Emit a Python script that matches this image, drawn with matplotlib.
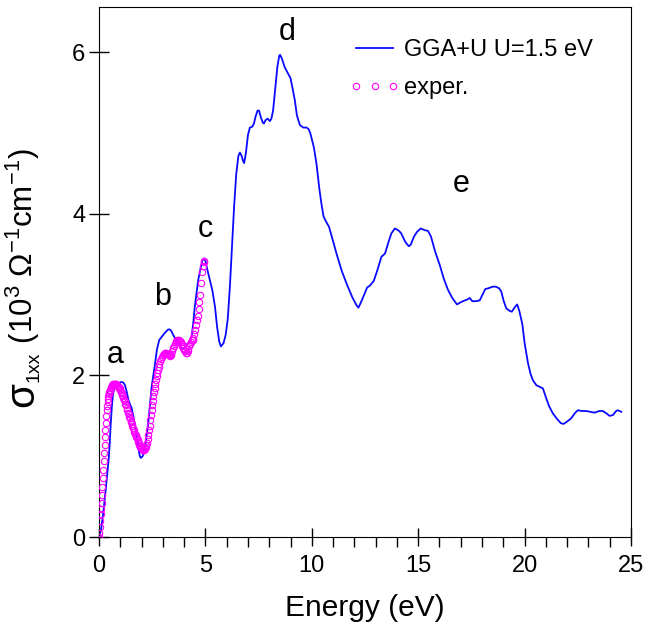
import matplotlib

matplotlib.use("Agg")
import matplotlib.pyplot as plt
from matplotlib.legend_handler import HandlerLine2D
from matplotlib.lines import Line2D
from matplotlib.ticker import MultipleLocator

plt.rcParams["font.family"] = ["Liberation Sans", "DejaVu Sans"]
plt.rcParams["mathtext.fontset"] = "custom"
plt.rcParams["mathtext.rm"] = "Liberation Sans"
plt.rcParams["mathtext.it"] = "Liberation Sans"
plt.rcParams["mathtext.bf"] = "Liberation Sans:bold"

# GGA+U U=1.5 eV calculation
calc_e = [0.00, 0.10, 0.20, 0.30, 0.40, 0.45, 0.50, 0.55, 0.60, 0.65, 0.70, 0.75, 0.85, 0.95,
          1.06, 1.15, 1.22, 1.30, 1.38, 1.46, 1.53, 1.61, 1.70, 1.77, 1.85, 1.92, 1.97, 2.05,
          2.13, 2.20, 2.31, 2.40, 2.47, 2.55, 2.63, 2.72, 2.83, 2.95, 3.10, 3.25, 3.33, 3.40,
          3.49, 3.60, 3.72, 3.85, 3.92, 4.02, 4.11, 4.25, 4.35, 4.43, 4.50, 4.58, 4.66, 4.75,
          4.85, 4.93, 5.00, 5.10, 5.21, 5.33, 5.45, 5.55, 5.65, 5.73, 5.85, 5.95, 6.05, 6.15,
          6.25, 6.35, 6.45, 6.55, 6.62, 6.70, 6.78, 6.82, 6.90, 7.00, 7.09, 7.20, 7.28, 7.35,
          7.45, 7.52, 7.60, 7.70, 7.75, 7.82, 7.92, 8.03, 8.10, 8.18, 8.28, 8.38, 8.47, 8.51,
          8.60, 8.72, 8.84, 9.00, 9.10, 9.20, 9.30, 9.44, 9.60, 9.75, 9.85, 9.93, 10.10, 10.22,
          10.35, 10.45, 10.55, 10.66, 10.81, 11.00, 11.16, 11.40, 11.63, 11.90, 12.10, 12.19,
          12.30, 12.49, 12.60, 12.72, 12.91, 13.10, 13.27, 13.44, 13.60, 13.74, 13.90, 13.98,
          14.10, 14.20, 14.40, 14.56, 14.65, 14.80, 14.95, 15.12, 15.30, 15.46, 15.60, 15.80,
          16.01, 16.20, 16.40, 16.60, 16.82, 16.95, 17.10, 17.30, 17.42, 17.54, 17.70, 17.89,
          18.00, 18.15, 18.30, 18.50, 18.64, 18.80, 18.90, 19.02, 19.14, 19.30, 19.40, 19.55,
          19.65, 19.75, 19.89, 20.00, 20.16, 20.28, 20.39, 20.55, 20.70, 20.86, 21.00, 21.15,
          21.33, 21.50, 21.70, 21.83, 22.00, 22.19, 22.35, 22.50, 22.70, 22.90, 23.10, 23.29,
          23.50, 23.68, 23.85, 23.99, 24.15, 24.30, 24.38, 24.54]
calc_s = [0.00, 0.10, 0.30, 0.55, 0.82, 0.95, 1.15, 1.40, 1.60, 1.75, 1.83, 1.87, 1.89, 1.91,
          1.92, 1.91, 1.88, 1.80, 1.70, 1.64, 1.60, 1.50, 1.36, 1.24, 1.10, 1.00, 0.98, 1.00,
          1.06, 1.18, 1.40, 1.65, 1.85, 2.00, 2.14, 2.32, 2.44, 2.48, 2.53, 2.57, 2.57, 2.55,
          2.50, 2.45, 2.40, 2.34, 2.33, 2.35, 2.38, 2.42, 2.48, 2.65, 2.85, 3.02, 3.18, 3.30,
          3.42, 3.45, 3.42, 3.30, 3.18, 3.05, 2.85, 2.60, 2.42, 2.36, 2.40, 2.50, 2.70, 3.10,
          3.60, 4.10, 4.50, 4.72, 4.76, 4.72, 4.65, 4.63, 4.75, 4.98, 5.07, 5.08, 5.12, 5.20,
          5.28, 5.28, 5.20, 5.13, 5.12, 5.16, 5.18, 5.15, 5.18, 5.28, 5.55, 5.82, 5.96, 5.97,
          5.92, 5.82, 5.76, 5.68, 5.55, 5.41, 5.22, 5.10, 5.07, 5.07, 5.05, 5.00, 4.82, 4.62,
          4.32, 4.13, 3.97, 3.91, 3.84, 3.66, 3.51, 3.30, 3.14, 2.97, 2.87, 2.84,
          2.90, 3.02, 3.09, 3.11, 3.17, 3.32, 3.47, 3.51, 3.65, 3.76, 3.82, 3.81,
          3.79, 3.76, 3.65, 3.60, 3.62, 3.72, 3.78, 3.82, 3.80, 3.79, 3.72, 3.53,
          3.37, 3.20, 3.06, 2.96, 2.88, 2.90, 2.92, 2.94, 2.96, 2.92, 2.92, 2.93,
          2.99, 3.07, 3.08, 3.10, 3.10, 3.08, 3.04, 2.92, 2.83, 2.80, 2.79, 2.85,
          2.88, 2.80, 2.64, 2.40, 2.15, 2.02, 1.94, 1.88, 1.86, 1.84, 1.73, 1.62,
          1.53, 1.47, 1.41, 1.40, 1.43, 1.47, 1.53, 1.57, 1.56, 1.56, 1.55, 1.54,
          1.56, 1.56, 1.53, 1.50, 1.51, 1.56, 1.57, 1.55]

# experiment (dense at low energy)
exp_e = [0.00, 0.02, 0.04, 0.06, 0.08, 0.10, 0.12, 0.14, 0.16, 0.18, 0.20, 0.22, 0.24, 0.26,
         0.28, 0.30, 0.32, 0.34, 0.36, 0.38, 0.40, 0.42, 0.44, 0.46, 0.48, 0.50, 0.52, 0.55,
         0.58, 0.61, 0.64, 0.67, 0.70, 0.73, 0.76, 0.79, 0.82, 0.85, 0.88, 0.91, 0.94, 0.97,
         1.00, 1.03, 1.06, 1.09, 1.12, 1.15, 1.18, 1.21, 1.24, 1.27, 1.30, 1.33, 1.36, 1.39,
         1.42, 1.45, 1.48, 1.51, 1.54, 1.57, 1.60, 1.63, 1.66, 1.69, 1.72, 1.75, 1.78, 1.81,
         1.84, 1.87, 1.90, 1.93, 1.96, 1.99, 2.02, 2.05, 2.08, 2.11, 2.14, 2.17, 2.20, 2.23,
         2.26, 2.29, 2.32, 2.35, 2.38, 2.41, 2.44, 2.47, 2.50, 2.53, 2.56, 2.59, 2.62, 2.65,
         2.68, 2.71, 2.74, 2.77, 2.80, 2.84, 2.88, 2.92, 2.96, 3.00, 3.04, 3.08, 3.12, 3.16,
         3.20, 3.24, 3.28, 3.32, 3.36, 3.40, 3.44, 3.48, 3.52, 3.56, 3.60, 3.64, 3.68, 3.72,
         3.76, 3.80, 3.84, 3.88, 3.92, 3.96, 4.00, 4.04, 4.08, 4.12, 4.16, 4.20, 4.24, 4.28,
         4.32, 4.36, 4.40, 4.44, 4.48, 4.52, 4.56, 4.60, 4.64, 4.68, 4.72, 4.76, 4.80, 4.84,
         4.88, 4.92, 4.95]
exp_s = [0.00, 0.05, 0.12, 0.20, 0.28, 0.35, 0.42, 0.52, 0.62, 0.73, 0.83, 0.94, 1.04, 1.14,
         1.24, 1.33, 1.41, 1.50, 1.57, 1.62, 1.67, 1.71, 1.74, 1.77, 1.79, 1.81, 1.82, 1.84,
         1.86, 1.88, 1.89, 1.90, 1.90, 1.90, 1.90, 1.89, 1.89, 1.88, 1.87, 1.86, 1.85, 1.84,
         1.82, 1.80, 1.78, 1.76, 1.74, 1.72, 1.70, 1.68, 1.65, 1.63, 1.60, 1.57, 1.54, 1.52,
         1.49, 1.47, 1.44, 1.42, 1.40, 1.37, 1.35, 1.32, 1.30, 1.28, 1.26, 1.24, 1.22, 1.20,
         1.18, 1.16, 1.14, 1.12, 1.11, 1.10, 1.09, 1.08, 1.08, 1.08, 1.09, 1.10, 1.12, 1.14,
         1.17, 1.21, 1.26, 1.32, 1.38, 1.45, 1.51, 1.57, 1.63, 1.69, 1.75, 1.80, 1.85, 1.90,
         1.95, 1.99, 2.03, 2.07, 2.10, 2.14, 2.18, 2.21, 2.23, 2.25, 2.27, 2.28, 2.28, 2.28,
         2.27, 2.26, 2.25, 2.24, 2.25, 2.27, 2.30, 2.34, 2.37, 2.39, 2.41, 2.43, 2.44, 2.44,
         2.44, 2.43, 2.41, 2.39, 2.37, 2.34, 2.32, 2.30, 2.28, 2.28, 2.30, 2.33, 2.36, 2.39,
         2.42, 2.44, 2.44, 2.47, 2.51, 2.56, 2.62, 2.69, 2.74, 2.82, 2.91, 3.00, 3.14, 3.28,
         3.36, 3.40, 3.42]

peak_labels = ["a", "b", "c", "d", "e"]
peak_e = [0.75, 3.0, 4.98, 8.83, 17.04]
peak_s = [2.25, 2.97, 3.82, 6.25, 4.37]

fig = plt.figure(figsize=(6.48, 6.27), dpi=100)
ax = fig.add_axes([0.1528, 0.1435, 0.821, 0.845])

ax.plot(calc_e, calc_s, color="#0a0aff", linewidth=1.3, label="GGA+U U=1.5 eV", zorder=2)
ax.plot(exp_e, exp_s, "o", color="#ff00ff", mfc="none", markersize=4.6, markeredgewidth=0.8,
        label="exper.", zorder=3)

for lab, e, s in zip(peak_labels, peak_e, peak_s):
    ax.text(e, s, lab, fontsize=22, ha="center", va="center")

ax.set_xlim(0, 25)
ax.set_ylim(0, 6.56)
ax.xaxis.set_major_locator(MultipleLocator(5))
ax.xaxis.set_minor_locator(MultipleLocator(1))
ax.yaxis.set_major_locator(MultipleLocator(2))
ax.tick_params(axis="x", which="major", direction="inout", length=13, width=1, labelsize=17, pad=6.5)
ax.tick_params(axis="x", which="minor", direction="out", length=7, width=1)
ax.tick_params(axis="y", which="major", direction="inout", length=14, width=1, labelsize=17, pad=3)

ax.set_xlabel("Energy (eV)", fontsize=21.5, labelpad=12)

ax.legend(loc="upper left", bbox_to_anchor=(0.478, 0.94), frameon=False, fontsize=17,
          handlelength=1.8, handletextpad=0.35, borderaxespad=0, borderpad=0,
          labelspacing=0.68,
          handler_map={Line2D: HandlerLine2D(numpoints=3, marker_pad=0.12)})

# y label: big sigma, subscript, then units
fig.canvas.draw()
rend = fig.canvas.get_renderer()
W, H = fig.bbox.width, fig.bbox.height
ylab_parts = [("σ", 29, 33), ("1xx", 14, 39), (r" (10$^3$ Ω$^{-1}$cm$^{-1}$)", 22.5, 33)]
ypos = 407
for txt, size, xb in ylab_parts:
    t = fig.text(xb / W, 1 - ypos / H, txt, fontsize=size, rotation=90,
                 rotation_mode="anchor", ha="left", va="baseline")
    ypos -= t.get_window_extent(rend).height

fig.savefig("out.png", dpi=100)
